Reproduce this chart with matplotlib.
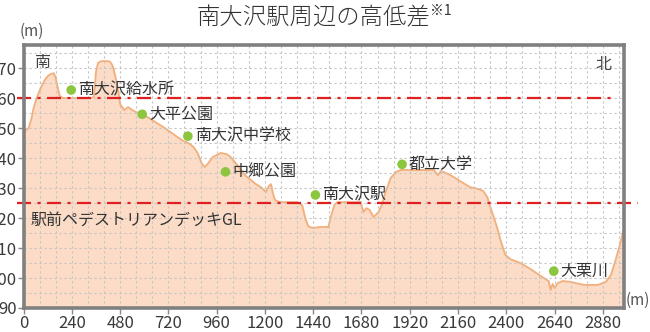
import matplotlib
matplotlib.use('Agg')
import matplotlib.pyplot as plt
from matplotlib.ticker import MultipleLocator

plt.rcParams['font.family'] = ['Noto Sans CJK JP', 'DejaVu Sans']

# elevation profile: distance from the south end (m) and height (m)
distance = [0, 25, 40, 50, 65, 85, 105, 120, 135, 150, 160, 170, 180, 195, 235, 285, 335,
            350, 360, 370, 385, 425, 435, 445, 460, 470, 480, 500, 520, 540, 560, 590, 615,
            655, 695, 730, 765, 795, 820, 845, 865, 885, 900, 915, 940, 980, 1010, 1030,
            1055, 1080, 1105, 1130, 1155, 1180, 1205, 1220, 1230, 1240, 1250, 1275, 1360,
            1385, 1400, 1415, 1435, 1475, 1515, 1530, 1545, 1560, 1675, 1690, 1705, 1720,
            1740, 1765, 1780, 1800, 1825, 1850, 1875, 2040, 2060, 2075, 2100, 2130, 2170,
            2220, 2260, 2285, 2305, 2325, 2350, 2375, 2395, 2420, 2470, 2520, 2570, 2610,
            2620, 2630, 2640, 2655, 2680, 2720, 2785, 2855, 2895, 2920, 2940, 2960, 2980, 2990]
height = [148.7, 150, 153.3, 156.7, 160, 163.3, 166, 167.3, 168, 168.3, 166.7, 163.3, 160.7,
          160, 160, 160, 160, 160.3, 168.7, 171.7, 172.3, 172.3, 171.7, 170.3, 166, 162.7,
          158, 156, 157, 156, 155.3, 154.7, 153.7, 152, 150.3, 148.7, 147, 145.7, 145,
          143.7, 141.7, 138.3, 137, 138, 140.3, 141.7, 141.3, 140.3, 138.3, 136, 134,
          132.7, 131.3, 130.3, 128.7, 130.7, 131.3, 128, 126, 125.3, 125.3, 124.3, 120,
          117.3, 116.7, 117, 117, 121, 124.3, 125.3, 125.3, 122, 123.3, 122.7, 120.3, 122,
          124.3, 128.7, 133.3, 135.3, 136, 136, 134.3, 135.7, 135, 134, 132.3, 130.3,
          129.7, 129, 127, 122.7, 117.7, 111.7, 107.7, 106.3, 105, 103, 100.7, 99, 96, 98,
          96.7, 98.3, 99, 98.7, 97.7, 97.7, 98.7, 101, 105.3, 110, 115.3, 116.7]

# landmarks along the route
place_names = ['南大沢給水所', '大平公園', '南大沢中学校', '中郷公園', '南大沢駅', '都立大学', '大栗川']
place_dist = [237, 590, 817, 1004, 1451, 1882, 2636]
place_height = [162.7, 154.6, 147.3, 135.4, 127.7, 137.9, 102.3]

# reference levels
water_tank_level = 160
deck_level = 125

x_ticks = list(range(0, 2881, 240))
y_ticks = list(range(90, 171, 10))

fig = plt.figure(figsize=(6.5, 3.32), dpi=100)
ax = fig.add_axes([0.0362, 0.0723, 0.9238, 0.7922])

ax.fill_between(distance, height, 90, color='#fcdcc6', zorder=1)
ax.plot(distance, height, color='#f2b07c', lw=1.3, zorder=2)

ax.set_xlim(0, 2985)
ax.set_ylim(90, 177.7)
ax.set_xticks(x_ticks)
ax.set_yticks(y_ticks)
ax.xaxis.set_minor_locator(MultipleLocator(80))
ax.yaxis.set_minor_locator(MultipleLocator(5))
ax.grid(which='both', color='#c4c4c4', lw=0.8, linestyle=(0, (2, 2.5)), zorder=3)
ax.set_axisbelow(False)
ax.tick_params(which='major', length=4, width=1, color='#888888', labelsize=12,
               labelcolor='#3a3a3a', pad=1)
ax.tick_params(which='minor', length=0)
for s in ax.spines.values():
    s.set_color('#808080')
    s.set_linewidth(2.6)
    s.set_zorder(6)

# dash-dot reference lines
ax.axhline(water_tank_level, xmin=-0.011, xmax=0.988, color='#e02020', lw=1.6,
           linestyle=(0, (6.3, 2.9, 1.4, 2.9)), clip_on=False, zorder=5)
ax.axhline(deck_level, xmin=-0.011, xmax=1.023, color='#e02020', lw=1.6,
           linestyle=(0, (6.3, 2.9, 1.4, 2.9)), clip_on=False, zorder=5)

# landmark dots and names
ax.scatter(place_dist, place_height, s=48, color='#8cc63f', edgecolors='none', zorder=7)
for name, x, y in zip(place_names, place_dist, place_height):
    ax.annotate(name, (x, y), xytext=(5, 0), textcoords='offset points',
                ha='left', va='center', fontsize=11.5, color='#333333', zorder=8)

ax.text(0.031, 0.932, '南', transform=ax.transAxes, ha='center', va='center',
        fontsize=11.5, color='#444444')
ax.text(0.965, 0.924, '北', transform=ax.transAxes, ha='center', va='center',
        fontsize=11.5, color='#444444')
ax.text(0.011, 0.335, '駅前ペデストリアンデッキGL', transform=ax.transAxes,
        ha='left', va='center', fontsize=11.5, color='#333333')

fig.text(0.303, 0.946, '南大沢駅周辺の高低差', ha='left', va='center',
         fontsize=16.8, fontweight='light', color='#333333')
fig.text(0.661, 0.966, '※1', ha='left', va='center', fontsize=10, color='#333333')
fig.text(0.049, 0.907, '(m)', ha='center', va='center', fontsize=11, color='#555555')
fig.text(0.982, 0.096, '(m)', ha='center', va='center', fontsize=11, color='#555555')

fig.savefig('out.png', dpi=100)
